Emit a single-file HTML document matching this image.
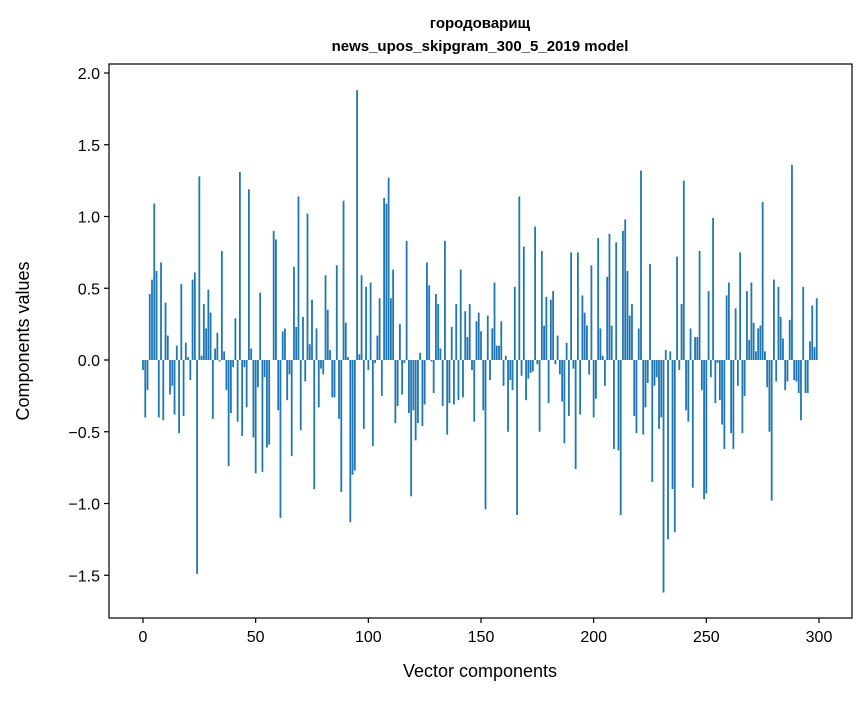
<!DOCTYPE html>
<html><head><meta charset="utf-8"><style>
body{margin:0;background:#fff;}
svg text{font-family:"Liberation Sans","DejaVu Sans",sans-serif;}
</style></head><body>
<svg id="chart" width="867" height="696" xmlns="http://www.w3.org/2000/svg">
<rect width="867" height="696" fill="#fff"/>
<text x="480" y="28" text-anchor="middle" font-size="15" font-weight="bold">городоварищ</text>
<text x="480" y="51" text-anchor="middle" font-size="15" font-weight="bold">news_upos_skipgram_300_5_2019 model</text>
<g id="bars"></g>
<g id="axes"></g>
<text x="480" y="677" text-anchor="middle" font-size="18">Vector components</text>
<text transform="translate(29,341) rotate(-90)" text-anchor="middle" font-size="18">Components values</text>
</svg>
<script>
const values = [
-0.07,-0.4,-0.21,0.46,0.56,1.09,0.62,-0.4,0.68,-0.42,
0.4,0.17,-0.24,-0.18,-0.38,0.1,-0.51,0.53,-0.39,0.12,
0.02,-0.14,0.56,0.61,-1.49,1.28,0.03,0.39,0.22,0.49,
0.33,-0.41,0.08,0.19,-0.01,0.76,0.06,-0.21,-0.74,-0.37,
-0.05,0.29,-0.43,1.31,-0.53,-0.05,-0.33,1.19,0.08,-0.54,
-0.79,-0.19,0.47,-0.78,-0.12,-0.61,-0.59,0.0,0.9,0.84,
-0.35,-1.1,0.2,0.22,-0.28,-0.1,-0.67,0.65,0.23,1.14,
-0.49,0.3,-0.15,1.02,0.11,0.42,-0.9,0.22,-0.33,-0.06,
-0.1,0.59,0.35,0.07,-0.26,-0.26,0.66,-0.41,-0.92,1.11,
0.26,0.02,-1.13,-0.8,-0.77,1.88,0.04,0.59,-0.48,0.51,
-0.07,0.54,-0.6,-0.02,0.17,0.43,-0.25,1.13,1.09,1.27,
0.43,0.63,-0.44,-0.32,0.25,-0.24,-0.02,0.83,-0.37,-0.95,
-0.35,-0.56,-0.44,0.05,-0.46,-0.31,0.68,0.52,-0.01,-0.23,
0.46,0.39,0.08,-0.32,0.83,-0.52,-0.3,0.23,-0.31,0.39,
-0.28,0.63,-0.26,0.34,0.16,0.39,-0.07,-0.43,0.27,0.33,
0.2,-0.35,-1.04,0.31,-0.14,0.22,0.54,0.1,0.1,0.27,
-0.18,0.03,-0.5,-0.14,-0.21,0.51,-1.08,1.14,-0.11,0.79,
-0.28,-0.13,-0.09,-0.08,0.93,-0.03,-0.5,0.76,0.24,0.44,
-0.3,0.42,0.48,-0.03,0.17,-0.1,-0.29,-0.58,0.12,-0.39,
0.75,-0.06,-0.76,0.75,-0.38,0.45,0.33,0.24,-0.1,0.66,
-0.4,-0.27,0.85,0.22,0.03,-0.18,0.58,0.88,0.24,-0.62,
0.82,-0.63,-1.08,0.9,0.98,0.62,0.31,0.39,-0.39,-0.51,
0.22,1.32,-0.52,-0.33,-0.16,0.67,-0.85,-0.18,-0.12,-0.48,
-0.4,-1.62,0.07,-1.25,0.06,-0.9,-1.2,0.72,-0.07,0.39,
1.25,-0.35,-0.43,0.22,-0.89,0.16,0.16,0.76,-0.21,-0.97,
-0.93,0.48,-0.12,0.99,-0.3,-0.02,-0.28,-0.45,-0.62,0.45,
0.54,-0.51,-0.62,0.36,-0.18,0.75,-0.51,-0.25,0.48,0.14,
0.54,0.26,0.06,0.22,0.24,1.1,0.06,-0.19,-0.5,-0.98,
0.56,-0.15,0.51,0.3,0.15,-0.21,-0.15,0.28,1.36,-0.14,
-0.15,-0.23,-0.42,0.51,-0.23,-0.23,0.13,0.38,0.09,0.43
];
const xTicks = [0,50,100,150,200,250,300];
const yTicks = [-1.5,-1.0,-0.5,0.0,0.5,1.0,1.5,2.0];
const yTickLabels = ["\u22121.5","\u22121.0","\u22120.5","0.0","0.5","1.0","1.5","2.0"];

const L=109,R=852,T=64,B=618;
const X0=143, XPU=(819-143)/300;
const Y0=360, YPU=143.5;
function xs(v){return X0+v*XPU;}
function ys(v){return Y0-v*YPU;}
const NS="http://www.w3.org/2000/svg";
const gb=document.getElementById('bars');
const bw=0.8*XPU;
values.forEach((v,i)=>{
  const r=document.createElementNS(NS,'rect');
  const y1=ys(Math.max(v,0)), y2=ys(Math.min(v,0));
  r.setAttribute('x',xs(i)-bw/2);
  r.setAttribute('y',y1);
  r.setAttribute('width',bw);
  r.setAttribute('height',Math.max(y2-y1,0));
  r.setAttribute('fill','#1f77b4');
  
  
  gb.appendChild(r);
});
const ga=document.getElementById('axes');
const frame=document.createElementNS(NS,'rect');
frame.setAttribute('x',L);frame.setAttribute('y',T);
frame.setAttribute('width',R-L);frame.setAttribute('height',B-T);
frame.setAttribute('fill','none');frame.setAttribute('stroke','#000');frame.setAttribute('stroke-width','1.2');


ga.appendChild(frame);
xTicks.forEach(t=>{
  const l=document.createElementNS(NS,'line');
  l.setAttribute('x1',xs(t));l.setAttribute('x2',xs(t));
  l.setAttribute('y1',B);l.setAttribute('y2',B+5);
  l.setAttribute('stroke','#000');l.setAttribute('stroke-width','1.2');
  
  
  ga.appendChild(l);
  const tx=document.createElementNS(NS,'text');
  tx.setAttribute('x',xs(t));tx.setAttribute('y',B+24);
  tx.setAttribute('text-anchor','middle');tx.setAttribute('font-size','16');
  tx.textContent=String(t);
  
  
  ga.appendChild(tx);
});
yTicks.forEach((t,i)=>{
  const l=document.createElementNS(NS,'line');
  l.setAttribute('x1',L-5);l.setAttribute('x2',L);
  l.setAttribute('y1',ys(t));l.setAttribute('y2',ys(t));
  l.setAttribute('stroke','#000');l.setAttribute('stroke-width','1.2');
  
  
  ga.appendChild(l);
  const tx=document.createElementNS(NS,'text');
  tx.setAttribute('x',L-9);tx.setAttribute('y',ys(t)+6);
  tx.setAttribute('text-anchor','end');tx.setAttribute('font-size','16');
  tx.textContent=yTickLabels[i];
  
  
  ga.appendChild(tx);
});
</script>
</body></html>
